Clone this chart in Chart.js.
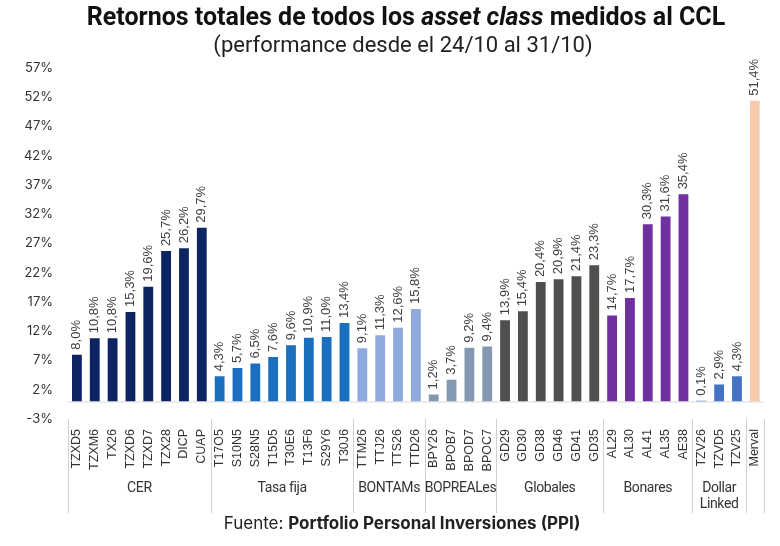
<!DOCTYPE html>
<html>
<head>
<meta charset="utf-8">
<script src="https://cdn.jsdelivr.net/npm/chart.js@4.4.0/dist/chart.umd.min.js"></script>
<style>
  html, body { margin: 0; padding: 0; background: #fff; }
  #wrap { position: relative; width: 780px; height: 546px; }
  #title { position: absolute; left: 16px; top: 2px; width: 780px; text-align: center;
    font-family: Roboto, sans-serif; font-weight: bold; font-size: 25px; color: #111; }
  #subtitle { position: absolute; left: 13px; top: 32px; width: 780px; text-align: center;
    font-family: Roboto, sans-serif; font-size: 22px; color: #222; }
  #source { position: absolute; left: 12px; top: 513px; width: 780px; text-align: center;
    font-family: Inter, sans-serif; font-size: 17px; color: #222; }
</style>
</head>
<body>
<div id="wrap">
  <canvas id="myChart" width="780" height="546"></canvas>
  <div id="title">Retornos totales de todos los <i>asset class</i> medidos al CCL</div>
  <div id="subtitle">(performance desde el 24/10 al 31/10)</div>
  <div id="source">Fuente: <b>Portfolio Personal Inversiones (PPI)</b></div>
</div>
<script>
/* datos por grupo */
var cerLabels = ["TZXD5", "TZXM6", "TX26", "TZXD6", "TZXD7", "TZX28", "DICP", "CUAP"];
var cerValues = [8.0, 10.8, 10.8, 15.3, 19.6, 25.7, 26.2, 29.7];

var fijaLabels = ["T17O5", "S10N5", "S28N5", "T15D5", "T30E6", "T13F6", "S29Y6", "T30J6"];
var fijaValues = [4.3, 5.7, 6.5, 7.6, 9.6, 10.9, 11.0, 13.4];

var bontamLabels = ["TTM26", "TTJ26", "TTS26", "TTD26"];
var bontamValues = [9.1, 11.3, 12.6, 15.8];

var boprealLabels = ["BPY26", "BPOB7", "BPOD7", "BPOC7"];
var boprealValues = [1.2, 3.7, 9.2, 9.4];

var globalLabels = ["GD29", "GD30", "GD38", "GD46", "GD41", "GD35"];
var globalValues = [13.9, 15.4, 20.4, 20.9, 21.4, 23.3];

var bonarLabels = ["AL29", "AL30", "AL41", "AL35", "AE38"];
var bonarValues = [14.7, 17.7, 30.3, 31.6, 35.4];

var dlLabels = ["TZV26", "TZVD5", "TZV25"];
var dlValues = [0.1, 2.9, 4.3];

var mervalLabels = ["Merval"];
var mervalValues = [51.4];

var groupNames = [["CER"], ["Tasa fija"], ["BONTAMs"], ["BOPREALes"], ["Globales"], ["Bonares"], ["Dollar", "Linked"], [""]];
var groupColors = ["#0c2461", "#1a70be", "#8eaadc", "#8598b2", "#4f4f4f", "#7030a0", "#4472c4", "#f8cbad"];
var yTicks = [-3, 2, 7, 12, 17, 22, 27, 32, 37, 42, 47, 52, 57];

// armado de la serie
var groups = [
    [cerLabels, cerValues], [fijaLabels, fijaValues], [bontamLabels, bontamValues],
    [boprealLabels, boprealValues], [globalLabels, globalValues], [bonarLabels, bonarValues],
    [dlLabels, dlValues], [mervalLabels, mervalValues]
];
var labels = [], values = [], colors = [], groupStart = [];
groups.forEach(function (g, i) {
    groupStart.push(labels.length);
    g[0].forEach(function (l, j) {
        labels.push(l);
        values.push(g[1][j]);
        colors.push(groupColors[i]);
    });
});
groupStart.push(labels.length);

// etiquetas de valor, linea del cero y grupos del eje x
var extras = {
    id: 'extras',
    afterDatasetsDraw: function (chart) {
        var ctx = chart.ctx;
        var x = chart.scales.x, y = chart.scales.y;
        var area = chart.chartArea;
        ctx.save();
        // linea del cero
        var y0 = y.getPixelForValue(0);
        ctx.strokeStyle = '#d9d9d9';
        ctx.lineWidth = 1;
        ctx.beginPath();
        ctx.moveTo(area.left, y0 + 0.5);
        ctx.lineTo(area.right, y0 + 0.5);
        ctx.stroke();

        // valores rotados
        ctx.fillStyle = '#404040';
        ctx.font = '13px "Liberation Sans", Arial, sans-serif';
        ctx.textAlign = 'left';
        ctx.textBaseline = 'middle';
        var meta = chart.getDatasetMeta(0);
        meta.data.forEach(function (bar, i) {
            var txt = values[i].toFixed(1).replace('.', ',') + '%';
            ctx.save();
            ctx.translate(bar.x, Math.min(bar.y, y0) - 5);
            ctx.rotate(-Math.PI / 2);
            ctx.fillText(txt, 0, 0);
            ctx.restore();
        });

        // separadores y nombres de grupo
        var step = x.getPixelForValue(1) - x.getPixelForValue(0);
        ctx.strokeStyle = '#d0d0d0';
        ctx.font = '14px Roboto, sans-serif';
        ctx.letterSpacing = '-0.4px';
        ctx.fillStyle = '#333';
        ctx.textAlign = 'center';
        for (var k = 0; k < groupStart.length; k++) {
            var px = Math.round(x.getPixelForValue(groupStart[k]) - step / 2) + 0.5;
            ctx.beginPath();
            ctx.moveTo(px, area.bottom);
            ctx.lineTo(px, area.bottom + 94);
            ctx.stroke();
            if (k < groupNames.length) {
                var mid = (x.getPixelForValue(groupStart[k]) + x.getPixelForValue(groupStart[k + 1] - 1)) / 2;
                groupNames[k].forEach(function (line, n) {
                    ctx.fillText(line, mid, area.bottom + 69 + n * 16);
                });
            }
        }
        ctx.restore();
    }
};

var ctx = document.getElementById('myChart').getContext('2d');
var myChart = new Chart(ctx, {
    type: 'bar',
    data: {
        labels: labels,
        datasets: [{
            data: values,
            backgroundColor: colors,
            barPercentage: 0.55,
            categoryPercentage: 1.0
        }]
    },
    options: {
        responsive: false,
        animation: false,
        layout: { padding: { top: 68, right: 15, left: 0, bottom: 0 } },
        scales: {
            x: {
                grid: { display: false, drawTicks: false },
                border: { display: false },
                ticks: {
                    minRotation: 90, maxRotation: 90, autoSkip: false,
                    padding: 10,
                    color: '#333',
                    font: { family: '"Liberation Sans", Arial, sans-serif', size: 12.5 }
                },
                afterFit: function (scale) { scale.height = 127; }
            },
            y: {
                min: -3, max: 57,
                afterBuildTicks: function (scale) {
                    scale.ticks = yTicks.map(function (v) { return { value: v }; });
                },
                grid: { display: false },
                border: { display: false },
                ticks: {
                    padding: 7,
                    color: '#333',
                    font: { family: 'Inter, sans-serif', size: 13 },
                    callback: function (v) { return v + '%'; }
                },
                afterFit: function (scale) { scale.width = 68; }
            }
        },
        plugins: {
            legend: { display: false },
            tooltip: { enabled: false }
        }
    },
    plugins: [extras]
});
</script>
</body>
</html>
